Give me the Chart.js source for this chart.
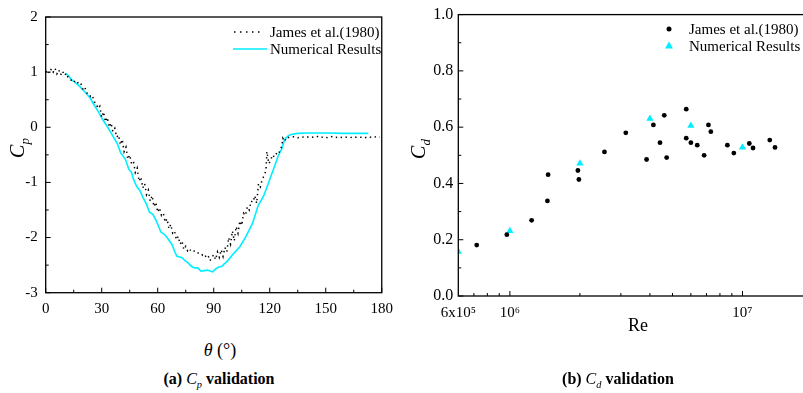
<!DOCTYPE html>
<html>
<head>
<meta charset="utf-8">
<script src="https://cdn.jsdelivr.net/npm/chart.js@4.4.1/dist/chart.umd.min.js"></script>
<style>
  html, body { margin: 0; padding: 0; background: #fff; overflow: hidden; }
  body { width: 803px; height: 393px; position: relative; font-family: 'Liberation Serif', 'Times New Roman', serif; color: #000; }
  canvas { position: absolute; top: 0; }
  #cpChart { left: 0; }
  #cdChart { left: 400px; }
  .lbl { position: absolute; white-space: nowrap; transform: translate(-50%, -50%); }
  .vert { transform: translate(-50%, -50%) rotate(-90deg); }
  .sub { font-size: 65%; position: relative; top: 0.35em; }
  .leg { position: absolute; white-space: nowrap; font-size: 15px; transform: translateY(-50%); }
  .cap { position: absolute; white-space: nowrap; font-size: 16px; font-weight: bold; transform: translate(-50%, -50%); }
  .cap i { font-weight: normal; }
  .dot { position: absolute; width: 5px; height: 5px; border-radius: 50%; background: #000; transform: translate(-50%, -50%); }
  .tri { position: absolute; width: 0; height: 0; border-left: 4px solid transparent; border-right: 4px solid transparent; border-bottom: 7px solid #00eeff; transform: translate(-50%, -50%); }
</style>
</head>
<body>
<canvas id="cpChart" width="400" height="330"></canvas>
<canvas id="cdChart" width="420" height="330"></canvas>

<!-- legend (a) -->
<svg style="position:absolute;left:233px;top:30px" width="32" height="4"><line x1="1" y1="2" x2="31" y2="2" stroke="#000" stroke-width="1.5" stroke-dasharray="1.5 4.5"/></svg>
<div class="leg" style="left:270px;top:32px">James et al.(1980)</div>
<svg style="position:absolute;left:233px;top:47px" width="34" height="4"><line x1="0" y1="2" x2="34" y2="2" stroke="#00eeff" stroke-width="1.6"/></svg>
<div class="leg" style="left:270px;top:49px">Numerical Results</div>

<!-- legend (b) -->
<div class="dot" style="left:669px;top:28.5px"></div>
<div class="leg" style="left:689px;top:28.5px">James et al.(1980)</div>
<div class="tri" style="left:669px;top:45px"></div>
<div class="leg" style="left:689px;top:45.5px">Numerical Results</div>

<!-- axis titles -->
<div class="lbl vert" style="left:17px;top:148px;font-size:20px"><i>C<span class="sub">p</span></i></div>
<div class="lbl" style="left:220px;top:350px;font-size:18px"><i>θ</i> (°)</div>
<div class="lbl vert" style="left:418px;top:149px;font-size:20px"><i>C<span class="sub">d</span></i></div>
<div class="lbl" style="left:638px;top:325px;font-size:18px">Re</div>

<!-- captions -->
<div class="cap" style="left:219px;top:379px">(a) <i>C<span class="sub">p</span></i> validation</div>
<div class="cap" style="left:618px;top:379px">(b) <i>C<span class="sub">d</span></i> validation</div>

<script>
// ---- (a) pressure coefficient vs angle ----
const jamesTheta = [0,1,2,3,4,5,6,7,8,9,10,11,12,13,14,15,16,17,18,19,20,21,22,23,24,25,26,27,28,29,
  30,31,32,33,34,35,36,37,38,39,40,41,42,43,44,45,46,47,48,49,50,51,52,53,54,55,56,57,58,59,
  60,61,62,63,64,65,66,67,68,69,70,71,72,73,74,75,76,77,78,80,81,83,84,85,86,87,88,89,
  90,91,92,93,94,95,96,97,98,99,100,101,102,103,104,105,106,107,108,109,110,111,112,113,114,115,116,117,118,
  118.5,119.5,120.5,121.5,122.5,123.5,124.5,125.5,126.5,127,128,129,131,133,135,137,139,141,143,145,147,149,
  151,153,155,157,159,161,163,165,167,169,171,173,175,177,179];
const jamesCp = [1.00,1.04,0.98,1.06,1.00,1.07,0.97,1.04,0.95,1.02,0.94,0.98,0.90,0.88,0.84,0.86,0.80,0.82,0.76,0.78,
  0.68,0.72,0.62,0.62,0.56,0.58,0.46,0.44,0.34,0.38,
  0.18,0.28,0.10,0.18,0.00,0.08,-0.08,-0.02,-0.18,-0.14,-0.32,-0.22,-0.44,-0.36,-0.58,-0.50,-0.66,-0.62,-0.82,-0.74,
  -0.98,-0.90,-1.10,-1.02,-1.22,-1.14,-1.34,-1.24,-1.44,-1.36,
  -1.54,-1.46,-1.60,-1.56,-1.72,-1.66,-1.84,-1.76,-1.92,-1.88,-2.04,-1.98,-2.12,-2.06,-2.22,-2.16,-2.24,-2.20,-2.26,
  -2.24,-2.28,-2.28,-2.32,-2.30,-2.36,-2.33,-2.42,-2.36,
  -2.31,-2.40,-2.26,-2.36,-2.22,-2.34,-2.18,-2.26,-2.00,-2.12,-1.88,-2.06,-1.80,-1.92,-1.70,-1.78,-1.56,-1.60,-1.44,-1.50,
  -1.34,-1.36,-1.24,-1.38,-1.02,-1.08,-0.94,-0.88,-0.78,
  -0.44,-0.66,-0.60,-0.50,-0.54,-0.48,-0.50,-0.42,-0.34,-0.20,-0.26,-0.18,-0.19,-0.17,-0.19,-0.17,-0.19,-0.17,-0.18,-0.16,-0.19,-0.17,
  -0.19,-0.17,-0.19,-0.17,-0.19,-0.18,-0.19,-0.17,-0.19,-0.18,-0.19,-0.17,-0.19,-0.17,-0.18];

const numTheta = [10.9,14,17.7,21,23.8,26,28.1,30.5,33.2,36,38.4,40.1,42.7,44.5,46,47,48.7,50.5,52.2,53.9,55.6,57.4,59.1,60.5,
  61.7,63.5,65,67.7,69.4,70.3,72.9,74.6,76.3,78,79.7,81.5,83.2,85,86.6,88.4,89.5,91,92.5,94.4,95.5,97,100.4,103.9,107.3,
  110.8,113.8,116.8,119.4,122,124.5,126.3,128,129.7,131.4,134.9,140,150,160,172.8];
const numCp = [0.98,0.86,0.76,0.64,0.53,0.40,0.29,0.14,0.00,-0.16,-0.30,-0.46,-0.58,-0.76,-0.82,-0.94,-1.07,-1.15,-1.28,-1.39,-1.54,-1.58,-1.69,-1.80,
  -1.90,-1.94,-2.00,-2.13,-2.28,-2.34,-2.36,-2.42,-2.46,-2.52,-2.55,-2.55,-2.61,-2.60,-2.59,-2.61,-2.62,-2.57,-2.54,-2.52,-2.48,-2.44,-2.30,-2.17,-1.98,
  -1.74,-1.42,-1.24,-1.00,-0.76,-0.52,-0.40,-0.22,-0.16,-0.13,-0.11,-0.105,-0.105,-0.11,-0.11];

const thetaMajor = [0, 30, 60, 90, 120, 150, 180];
const thetaMinor = [15, 45, 75, 105, 135, 165];
const cpMajor = [-3, -2, -1, 0, 1, 2];
const cpMinor = [-2.5, -1.5, -0.5, 0.5, 1.5];

// ---- (b) drag coefficient vs Reynolds number ----
const reJames = [7.2e5,9.7e5,1.24e6,1.45e6,1.46e6,1.96e6,1.98e6,2.55e6,3.15e6,3.87e6,4.14e6,4.42e6,4.61e6,4.72e6,
  5.73e6,5.73e6,6.0e6,6.39e6,6.84e6,7.14e6,7.31e6,8.61e6,9.18e6,1.07e7,1.11e7,1.31e7,1.38e7];
const cdJames = [0.181,0.218,0.269,0.338,0.431,0.446,0.414,0.512,0.580,0.485,0.608,0.545,0.642,0.492,
  0.664,0.561,0.545,0.536,0.500,0.608,0.584,0.536,0.508,0.542,0.526,0.554,0.528];
const reNum = [6e5, 1e6, 2e6, 4e6, 6e6, 1e7];
const cdNum = [0.158, 0.231, 0.471, 0.630, 0.605, 0.528];

const reLabelValues = [6e5, 1e6, 1e7];
const reLabels = ['6x10\u2075', '10\u2076', '10\u2077'];
const reMajor = [1e6, 1e7];
const reMinor = [7e5, 8e5, 9e5, 2e6, 3e6, 4e6, 5e6, 6e6, 7e6, 8e6, 9e6];
const cdMajor = [0, 0.2, 0.4, 0.6, 0.8, 1.0];
const cdMinor = [0.1, 0.3, 0.5, 0.7, 0.9];

const CYAN = '#00eeff';
const SERIF = "'Liberation Serif', 'Times New Roman', serif";
Chart.defaults.font.family = SERIF;
Chart.defaults.color = '#000';

const toXY = (xs, ys) => xs.map((x, i) => ({ x: x, y: ys[i] }));

// frame + inward tick marks
const frameTicks = {
  id: 'frameTicks',
  afterDraw(chart, args, opts) {
    const { ctx, chartArea: a, scales } = chart;
    ctx.save();
    ctx.strokeStyle = '#000';
    ctx.lineWidth = 1.3;
    ctx.strokeRect(a.left, a.top, a.right - a.left, a.bottom - a.top);
    ctx.lineWidth = 1;
    ctx.beginPath();
    const xt = (vals, len) => vals.forEach(v => {
      const px = scales.x.getPixelForValue(v);
      ctx.moveTo(px, a.bottom); ctx.lineTo(px, a.bottom - len);
    });
    const yt = (vals, len) => vals.forEach(v => {
      const py = scales.y.getPixelForValue(v);
      ctx.moveTo(a.left, py); ctx.lineTo(a.left + len, py);
    });
    xt(opts.xMajor, 5); xt(opts.xMinor, 3);
    yt(opts.yMajor, 5); yt(opts.yMinor, 3);
    ctx.stroke();
    ctx.restore();
  }
};

new Chart(document.getElementById('cpChart'), {
  type: 'scatter',
  data: {
    datasets: [
      {
        label: 'James et al.(1980)',
        data: toXY(jamesTheta, jamesCp),
        showLine: true,
        borderColor: '#000',
        borderWidth: 1.5,
        borderDash: [1.4, 3.6],
        pointRadius: 0,
        tension: 0
      },
      {
        label: 'Numerical Results',
        data: toXY(numTheta, numCp),
        showLine: true,
        borderColor: CYAN,
        borderWidth: 1.6,
        pointRadius: 0,
        tension: 0
      }
    ]
  },
  options: {
    responsive: false,
    animation: false,
    layout: { padding: { top: 10, right: 5.7, left: 0, bottom: 0 } },
    plugins: {
      legend: { display: false },
      tooltip: { enabled: false },
      frameTicks: { xMajor: thetaMajor, xMinor: thetaMinor, yMajor: cpMajor, yMinor: cpMinor }
    },
    scales: {
      x: {
        type: 'linear', min: 0, max: 180,
        grid: { display: false, drawTicks: false },
        border: { display: false },
        ticks: { stepSize: 30, padding: 7, maxRotation: 0, font: { family: SERIF, size: 15 } },
        afterFit: s => { s.height = 330 - 292.7; }
      },
      y: {
        type: 'linear', min: -3, max: 2,
        grid: { display: false, drawTicks: false },
        border: { display: false },
        ticks: { stepSize: 1, padding: 8, font: { family: SERIF, size: 15 } },
        afterFit: s => { s.width = 45.7; }
      }
    }
  },
  plugins: [frameTicks]
});

new Chart(document.getElementById('cdChart'), {
  type: 'scatter',
  data: {
    datasets: [
      {
        label: 'James et al.(1980)',
        data: toXY(reJames, cdJames),
        pointStyle: 'circle',
        pointRadius: 2.4,
        pointBorderWidth: 0,
        backgroundColor: '#000',
        borderColor: '#000'
      },
      {
        label: 'Numerical Results',
        data: toXY(reNum, cdNum),
        pointStyle: 'triangle',
        pointRadius: 4.2,
        pointBorderWidth: 0,
        backgroundColor: CYAN,
        borderColor: CYAN,
        clip: 0
      }
    ]
  },
  options: {
    responsive: false,
    animation: false,
    layout: { padding: { top: 10, right: 7.5, left: 0, bottom: 0 } },
    plugins: {
      legend: { display: false },
      tooltip: { enabled: false },
      frameTicks: { xMajor: reMajor, xMinor: reMinor, yMajor: cdMajor, yMinor: cdMinor }
    },
    scales: {
      x: {
        type: 'logarithmic', min: 6e5, max: 2e7,
        grid: { display: false, drawTicks: false },
        border: { display: false },
        afterBuildTicks: s => { s.ticks = reLabelValues.map(v => ({ value: v })); },
        ticks: {
          autoSkip: false, maxRotation: 0, padding: 8, font: { family: SERIF, size: 15 },
          callback: (v, i) => reLabels[i]
        },
        afterFit: s => { s.height = 330 - 296; }
      },
      y: {
        type: 'linear', min: 0, max: 1,
        grid: { display: false, drawTicks: false },
        border: { display: false },
        ticks: { stepSize: 0.2, padding: 5, font: { family: SERIF, size: 16 }, callback: v => v.toFixed(1) },
        afterFit: s => { s.width = 58.3; }
      }
    }
  },
  plugins: [frameTicks]
});
</script>
</body>
</html>
